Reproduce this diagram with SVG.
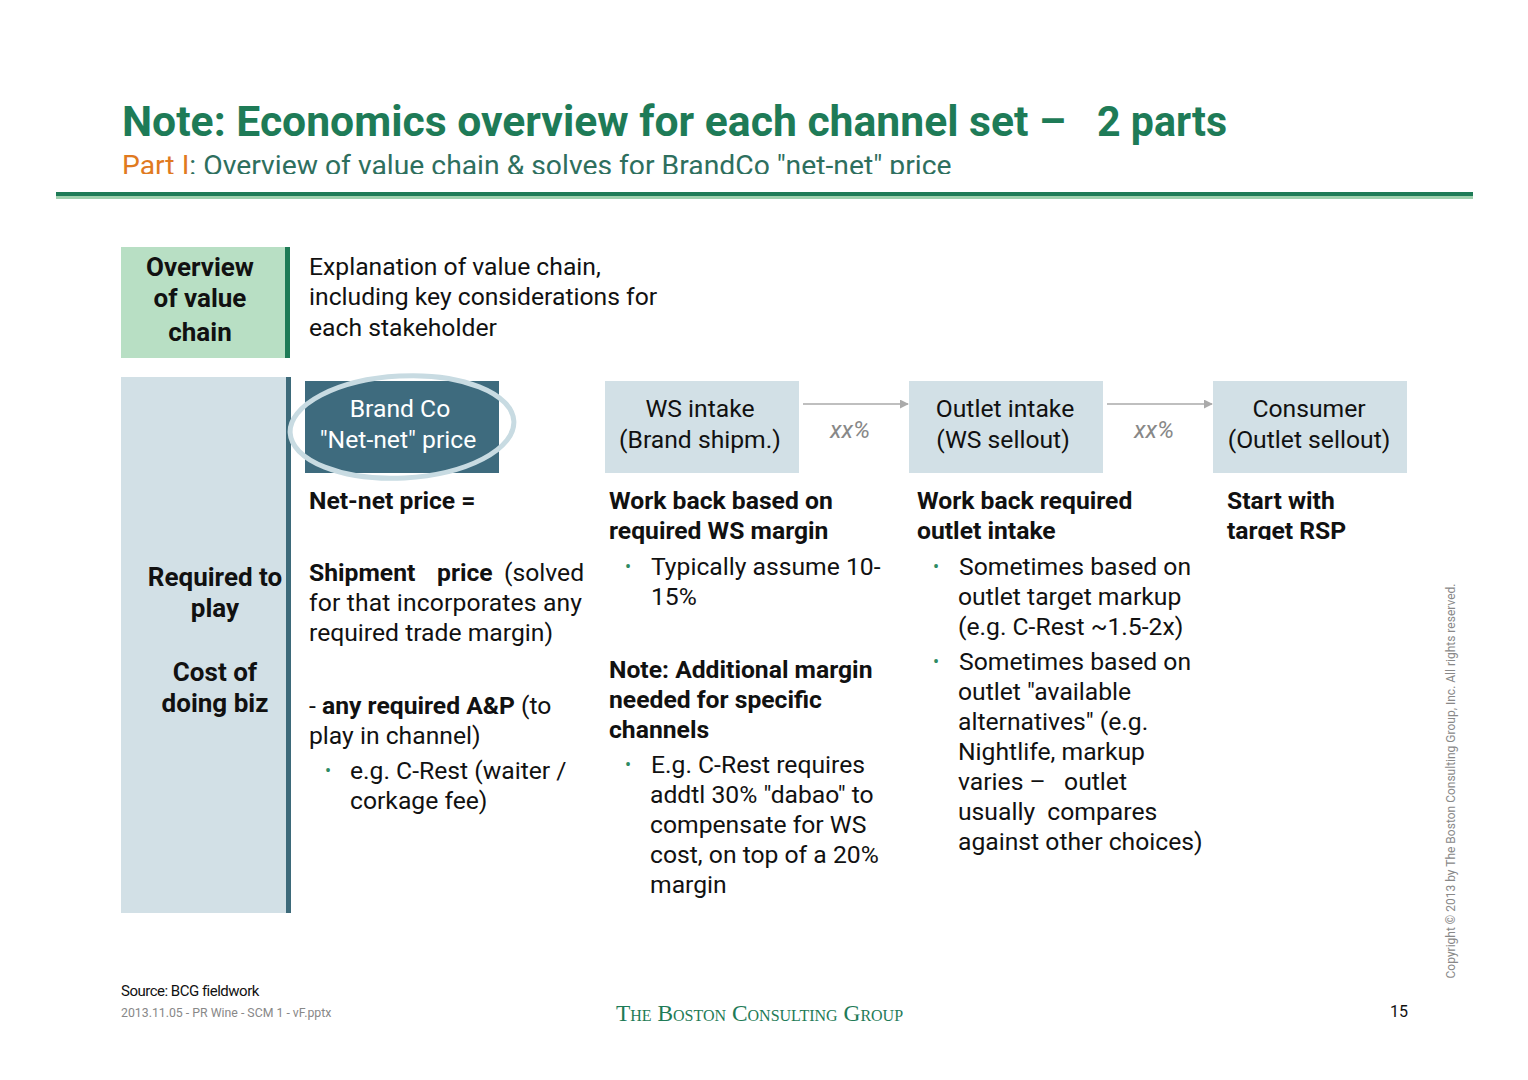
<svg xmlns="http://www.w3.org/2000/svg" width="1528" height="1080" viewBox="0 0 1528 1080">
<style>
text{font-family:Roboto,"Liberation Sans",sans-serif;fill:#111}
.b{font-weight:bold}
.t{font-size:24.7px}
.h{font-size:26px;font-weight:bold;text-anchor:middle}
.c{text-anchor:middle}
.bul{fill:#2e8b62;font-size:18px}
.xx{font-size:24px;font-style:italic;fill:#888;text-anchor:middle}
.lb{fill:#d2e0e6}
</style>
<defs>
<marker id="ar" viewBox="0 0 10 10" refX="9" refY="5" markerWidth="9" markerHeight="9" markerUnits="userSpaceOnUse" orient="auto"><path d="M0,0 L10,5 L0,10 z" fill="#aaaaaa"/></marker>
<clipPath id="subclip"><rect x="0" y="140" width="1528" height="34"/></clipPath>
<clipPath id="rspclip"><rect x="1200" y="480" width="220" height="60"/></clipPath>
</defs>
<rect width="1528" height="1080" fill="#fff"/>
<g id="title">
<text x="122" y="136" style="font-size:43px;font-weight:bold;fill:#1e7b57"><tspan textLength="944" lengthAdjust="spacingAndGlyphs">Note: Economics overview for each channel set –</tspan><tspan x="1097" textLength="130" lengthAdjust="spacingAndGlyphs">2 parts</tspan></text>
<text x="122" y="175" clip-path="url(#subclip)" style="font-size:28.3px;fill:#2e6f5e"><tspan style="fill:#e07a1f">Part I</tspan>: Overview of value chain &amp; solves for BrandCo "net-net" price</text>
<rect x="56" y="192" width="1417" height="4" fill="#1e7b57"/>
<rect x="56" y="196" width="1417" height="3" fill="#9fd0ae"/>
</g>
<g id="overview">
<rect x="121" y="247" width="166" height="111" fill="#b8dfc4"/>
<rect x="285" y="247" width="5" height="111" fill="#1e7b57"/>
<text class="h" x="200" y="276">Overview</text>
<text class="h" x="200" y="307">of value</text>
<text class="h" x="200" y="341">chain</text>
<text class="t" x="309" y="275">Explanation of value chain,</text>
<text class="t" x="309" y="305">including key considerations for</text>
<text class="t" x="309" y="336">each stakeholder</text>
</g>
<g id="left-panel">
<rect class="lb" x="121" y="377" width="166" height="536"/>
<rect x="286" y="377" width="5" height="536" fill="#3d6a7a"/>
<text class="h" x="215" y="586">Required to</text>
<text class="h" x="215" y="617">play</text>
<text class="h" x="215" y="681">Cost of</text>
<text class="h" x="215" y="712">doing biz</text>
</g>
<g id="node-brandco">
<rect x="305" y="381" width="194" height="92" fill="#3e6b7e"/>
<text class="t c" x="400" y="417" style="fill:#fff">Brand Co</text>
<text class="t c" x="398" y="448" style="fill:#fff">"Net-net" price</text>
<ellipse cx="402" cy="427" rx="112" ry="51" fill="none" stroke="#c8dbe2" stroke-width="5" transform="rotate(-3 402 427)"/>
</g>
<g id="node-ws">
<rect class="lb" x="605" y="381" width="194" height="92"/>
<text class="t c" x="700" y="417">WS intake</text>
<text class="t c" x="700" y="448">(Brand shipm.)</text>
</g>
<g id="node-outlet">
<rect class="lb" x="909" y="381" width="194" height="92"/>
<text class="t c" x="1005" y="417">Outlet intake</text>
<text class="t c" x="1003" y="448">(WS sellout)</text>
</g>
<g id="node-consumer">
<rect class="lb" x="1213" y="381" width="194" height="92"/>
<text class="t c" x="1309" y="417">Consumer</text>
<text class="t c" x="1309" y="448">(Outlet sellout)</text>
</g>
<g id="connectors">
<line x1="803" y1="404" x2="908" y2="404" stroke="#aaaaaa" stroke-width="1.5" marker-end="url(#ar)"/>
<line x1="1107" y1="404" x2="1212" y2="404" stroke="#aaaaaa" stroke-width="1.5" marker-end="url(#ar)"/>
<text class="xx" x="850" y="438">xx%</text>
<text class="xx" x="1154" y="438">xx%</text>
</g>
<g id="col-brand">
<text class="t b" x="309" y="509">Net-net price =</text>
<text class="t" y="581"><tspan class="b" x="309">Shipment</tspan><tspan class="b" x="437">price</tspan><tspan x="504">(solved</tspan></text>
<text class="t" x="309" y="611" textLength="273" lengthAdjust="spacing">for that incorporates any</text>
<text class="t" x="309" y="641">required trade margin)</text>
<text class="t" x="309" y="714">- <tspan class="b">any required A&amp;P</tspan> (to</text>
<text class="t" x="309" y="744">play in channel)</text>
<text class="bul" x="325" y="777">•</text>
<text class="t" x="350" y="779">e.g. C-Rest (waiter /</text>
<text class="t" x="350" y="809">corkage fee)</text>
</g>
<g id="col-ws">
<text class="t b" x="609" y="509">Work back based on</text>
<text class="t b" x="609" y="539">required WS margin</text>
<text class="bul" x="625" y="573">•</text>
<text class="t" x="651" y="575">Typically assume 10-</text>
<text class="t" x="651" y="605">15%</text>
<text class="t b" x="609" y="678">Note: Additional margin</text>
<text class="t b" x="609" y="708">needed for specific</text>
<text class="t b" x="609" y="738">channels</text>
<text class="bul" x="625" y="771">•</text>
<text class="t" x="651" y="773">E.g. C-Rest requires</text>
<text class="t" x="650" y="803">addtl 30% "dabao" to</text>
<text class="t" x="650" y="833">compensate for WS</text>
<text class="t" x="650" y="863">cost, on top of a 20%</text>
<text class="t" x="650" y="893">margin</text>
</g>
<g id="col-outlet">
<text class="t b" x="917" y="509">Work back required</text>
<text class="t b" x="917" y="539">outlet intake</text>
<text class="bul" x="933" y="573">•</text>
<text class="t" x="959" y="575">Sometimes based on</text>
<text class="t" x="958" y="605">outlet target markup</text>
<text class="t" x="958" y="635">(e.g. C-Rest ~1.5-2x)</text>
<text class="bul" x="933" y="668">•</text>
<text class="t" x="959" y="670">Sometimes based on</text>
<text class="t" x="958" y="700">outlet "available</text>
<text class="t" x="958" y="730">alternatives" (e.g.</text>
<text class="t" x="958" y="760">Nightlife, markup</text>
<text class="t" x="958" y="790" xml:space="preserve">varies –   outlet</text>
<text class="t" x="958" y="820" xml:space="preserve">usually  compares</text>
<text class="t" x="958" y="850">against other choices)</text>
</g>
<g id="col-consumer" clip-path="url(#rspclip)">
<text class="t b" x="1227" y="509">Start with</text>
<text class="t b" x="1227" y="539">target RSP</text>
</g>
<g id="footer">
<text x="121" y="996" style="font-size:15px;letter-spacing:-0.5px">Source: BCG fieldwork</text>
<text x="121" y="1017" style="font-size:12.3px;fill:#888">2013.11.05 - PR Wine - SCM 1 - vF.pptx</text>
<text x="616" y="1021" style="font-family:'Liberation Serif',serif;font-size:23.4px;font-variant:small-caps;fill:#1e7b57">The Boston Consulting Group</text>
<text x="1390" y="1017" style="font-size:16px">15</text>
<text transform="translate(1455 781) rotate(-90)" class="c" style="font-size:12px;fill:#888">Copyright © 2013 by The Boston Consulting Group, Inc. All rights reserved.</text>
</g>
</svg>
